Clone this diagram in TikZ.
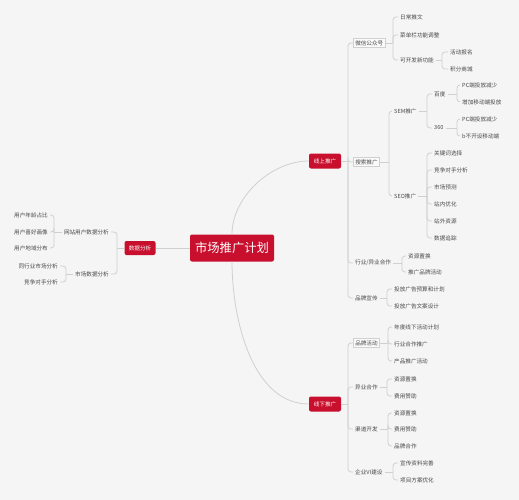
\documentclass[tikz,border=0pt]{standalone}
\usepackage{fontspec}
\setmainfont{Noto Sans CJK SC}
\definecolor{bg}{HTML}{F5F5F5}
\definecolor{mred}{HTML}{C8102E}
\definecolor{lin}{HTML}{D0D0D0}
\definecolor{txt}{HTML}{484848}
\tikzset{
  lf/.style={font=\fontsize{5.6}{6.7}\selectfont, text=txt, inner sep=2pt, anchor=west},
  lfr/.style={lf, anchor=east},
  bx/.style={lf, draw=lin, fill=white!50!bg, line width=0.5pt},
  rbox/.style={fill=mred, text=white, rounded corners=2pt, font=\fontsize{5.6}{6.7}\selectfont, minimum width=32pt, minimum height=15pt, inner sep=0pt},
  rootbox/.style={fill=mred, text=white, rounded corners=2pt, font=\fontsize{12.3}{14}\selectfont, minimum width=84pt, minimum height=27pt, inner sep=0pt},
  conn/.style={draw=lin, line width=0.8pt},
  br/.style={conn, rounded corners=3pt},
}
\begin{document}
\begin{tikzpicture}[x=1pt,y=-1pt]
\fill[bg] (0,0) rectangle (519,500);
\useasboundingbox (0,0) rectangle (519,500);

% main nodes
\node[rootbox] (root) at (232,248) {市场推广计划};
\node[rbox, minimum width=31pt, minimum height=14pt] (da) at (140,248) {数据分析};
\node[rbox] (on) at (325,161) {线上推广};
\node[rbox] (off) at (325,404) {线下推广};

\draw[conn] (root.west) -- (da.east);
\draw[conn] (root.north) to[out=90,in=180,looseness=0.9] (on.west);
\draw[conn] (root.south) to[out=-90,in=180,looseness=0.9] (off.west);

% ---------- left side
\node[lfr] (w1) at (111,232) {网站用户数据分析};
\node[lfr] (w2) at (111,274) {市场数据分析};
\node[lfr] (a1) at (50,215) {用户年龄占比};
\node[lfr] (a2) at (50,232) {用户喜好画像};
\node[lfr] (a3) at (50,248) {用户地域分布};
\node[lfr] (b1) at (60,266) {同行业市场分析};
\node[lfr] (b2) at (60,282) {竞争对手分析};

\coordinate (jda) at (117,248);
\coordinate (jw1) at (54,232);
\coordinate (jw2) at (66,274);
\draw[conn] (da.west) -- (jda);
\draw[br] (jda) |- (w1.east);
\draw[br] (jda) |- (w2.east);
\draw[conn] (w1.west) -- (jw1);
\draw[br] (jw1) |- (a1.east);
\draw[br] (jw1) |- (a2.east);
\draw[br] (jw1) |- (a3.east);
\draw[conn] (w2.west) -- (jw2);
\draw[br] (jw2) |- (b1.east);
\draw[br] (jw2) |- (b2.east);

% ---------- online
\node[bx] (c1) at (353,43) {微信公众号};
\node[bx] (c2) at (353,162) {搜索推广};
\node[lf] (c3) at (353,263) {行业/异业合作};
\node[lf] (c4) at (353,298) {品牌宣传};
\coordinate (jon) at (348,161);
\draw[conn] (on.east) -- (jon);
\foreach \c in {c1,c2,c3,c4} \draw[br] (jon) |- (\c.west);

\node[lf] (d1) at (398,17) {日常推文};
\node[lf] (d2) at (398,35) {菜单栏功能调整};
\node[lf] (d3) at (398,60) {可开发新功能};
\coordinate (jc1) at (393,43);
\draw[conn] (c1.east) -- (jc1);
\foreach \c in {d1,d2,d3} \draw[br] (jc1) |- (\c.west);

\node[lf] (f1) at (448,52) {活动报名};
\node[lf] (f2) at (448,69) {积分商城};
\coordinate (jd3) at (442,60);
\draw[conn] (d3.east) -- (jd3);
\foreach \c in {f1,f2} \draw[br] (jd3) |- (\c.west);

\node[lf] (sem) at (392,111) {SEM推广};
\node[lf] (seo) at (392,196) {SEO推广};
\coordinate (jc2) at (389,162);
\draw[conn] (c2.east) -- (jc2);
\foreach \c in {sem,seo} \draw[br] (jc2) |- (\c.west);

\node[lf] (bd) at (432,94) {百度};
\node[lf] (s3) at (432,128) {360};
\coordinate (jsem) at (427,111);
\draw[conn] (sem.east) -- (jsem);
\foreach \c in {bd,s3} \draw[br] (jsem) |- (\c.west);

\node[lf] (g1) at (460,85) {PC端投放减少};
\node[lf] (g2) at (460,102) {增加移动端投放};
\coordinate (jbd) at (457,94);
\draw[conn] (bd.east) -- (jbd);
\foreach \c in {g1,g2} \draw[br] (jbd) |- (\c.west);

\node[lf] (h1) at (460,119) {PC端投放减少};
\node[lf] (h2) at (460,136) {b不开设移动端};
\coordinate (js3) at (457,128);
\draw[conn] (s3.east) -- (js3);
\foreach \c in {h1,h2} \draw[br] (js3) |- (\c.west);

\node[lf] (o1) at (432,153) {关键词选择};
\node[lf] (o2) at (432,170) {竞争对手分析};
\node[lf] (o3) at (432,187) {市场预测};
\node[lf] (o4) at (432,204) {站内优化};
\node[lf] (o5) at (432,221) {站外资源};
\node[lf] (o6) at (432,238) {数据追踪};
\coordinate (jseo) at (427,196);
\draw[conn] (seo.east) -- (jseo);
\foreach \c in {o1,o2,o3,o4,o5,o6} \draw[br] (jseo) |- (\c.west);

\node[lf] (k1) at (406,256) {资源置换};
\node[lf] (k2) at (406,272) {推广品牌活动};
\coordinate (jc3) at (402,263);
\draw[conn] (c3.east) -- (jc3);
\foreach \c in {k1,k2} \draw[br] (jc3) |- (\c.west);

\node[lf] (m1) at (392,289) {投放广告预算和计划};
\node[lf] (m2) at (392,306) {投放广告文案设计};
\coordinate (jc4) at (387,298);
\draw[conn] (c4.east) -- (jc4);
\foreach \c in {m1,m2} \draw[br] (jc4) |- (\c.west);

% ---------- offline
\node[bx] (e1) at (353,343) {品牌活动};
\node[lf] (e2) at (353,387) {异业合作};
\node[lf] (e3) at (353,429) {渠道开发};
\node[lf] (e4) at (353,472) {企业VI建设};
\coordinate (joff) at (348,404);
\draw[conn] (off.east) -- (joff);
\foreach \c in {e1,e2,e3,e4} \draw[br] (joff) |- (\c.west);

\node[lf] (p1) at (392,327) {年度线下活动计划};
\node[lf] (p2) at (392,344) {行业合作推广};
\node[lf] (p3) at (392,361) {产品推广活动};
\coordinate (je1) at (388,343);
\draw[conn] (e1.east) -- (je1);
\foreach \c in {p1,p2,p3} \draw[br] (je1) |- (\c.west);

\node[lf] (q1) at (392,379) {资源置换};
\node[lf] (q2) at (392,396) {费用赞助};
\coordinate (je2) at (387,387);
\draw[conn] (e2.east) -- (je2);
\foreach \c in {q1,q2} \draw[br] (je2) |- (\c.west);

\node[lf] (r1) at (392,413) {资源置换};
\node[lf] (r2) at (392,429) {费用赞助};
\node[lf] (r3) at (392,446) {品牌合作};
\coordinate (je3) at (388,429);
\draw[conn] (e3.east) -- (je3);
\foreach \c in {r1,r2,r3} \draw[br] (je3) |- (\c.west);

\node[lf] (t1) at (398,463) {宣传资料完善};
\node[lf] (t2) at (398,480) {项目方案优化};
\coordinate (je4) at (393,472);
\draw[conn] (e4.east) -- (je4);
\foreach \c in {t1,t2} \draw[br] (je4) |- (\c.west);
\end{tikzpicture}
\end{document}
